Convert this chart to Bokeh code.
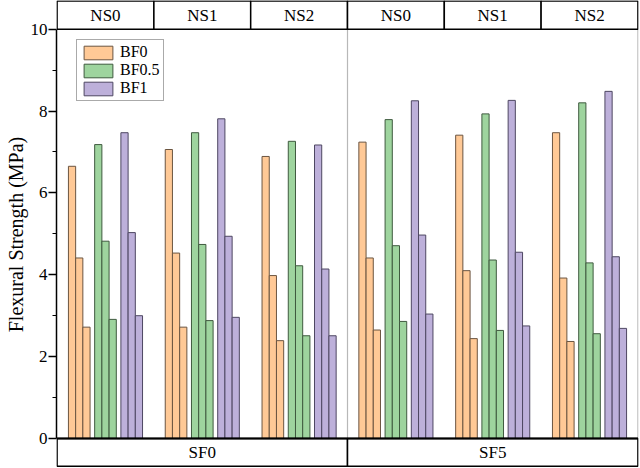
from bokeh.plotting import figure
from bokeh.models import Range1d, FixedTicker, ColumnDataSource, Legend, LegendItem
from bokeh.core.properties import value
from bokeh.embed import file_html
from bokeh.resources import INLINE

# ---- data ----
sf_labels = ["SF0", "SF5"]
ns_labels = ["NS0", "NS1", "NS2"]
bf_labels = ["BF0", "BF0.5", "BF1"]
# 6 groups (SF0-NS0, SF0-NS1, SF0-NS2, SF5-NS0, SF5-NS1, SF5-NS2) x 3 bars each
bf0 = [6.65, 4.41, 2.72, 7.06, 4.53, 2.72, 6.89, 3.98, 2.39,
       7.24, 4.41, 2.65, 7.41, 4.10, 2.44, 7.47, 3.92, 2.37]
bf05 = [7.18, 4.82, 2.91, 7.47, 4.74, 2.88, 7.26, 4.22, 2.51,
        7.79, 4.71, 2.86, 7.93, 4.36, 2.64, 8.20, 4.29, 2.56]
bf1 = [7.47, 5.03, 3.00, 7.81, 4.94, 2.96, 7.17, 4.14, 2.51,
       8.25, 4.97, 3.04, 8.26, 4.55, 2.75, 8.48, 4.44, 2.69]
y_ticks = [0, 2, 4, 6, 8, 10]
y_minor = [1, 3, 5, 7, 9]
y_title = "Flexural Strength (MPa)"

series = [bf0, bf05, bf1]
fills = ["#FFC996", "#9ED49E", "#BDB0DA"]
lines = ["#6b5540", "#3f5a3f", "#4e4762"]
FONT = "Liberation Serif"

n_groups = len(sf_labels) * len(ns_labels)
n_sub = 3
color_off = 0.271
sub_w = 0.0745
YMAX = 10
strip_h = 0.69

p = figure(width=640, height=468, output_backend="svg", toolbar_location=None,
           x_range=Range1d(-0.006, n_groups + 0.006), y_range=Range1d(-0.733, YMAX + 0.70),
           min_border_left=56, min_border_right=2, min_border_top=0, min_border_bottom=0)
p.background_fill_color = "white"
p.border_fill_color = "white"
p.outline_line_color = None
p.grid.visible = False
p.xaxis.visible = False

yax = p.yaxis[0]
yax.bounds = (0, YMAX)
yax.ticker = FixedTicker(ticks=y_ticks, minor_ticks=y_minor)
yax.axis_line_width = 1.5
yax.axis_line_color = "black"
yax.major_tick_in = 0
yax.major_tick_out = 8
yax.minor_tick_in = 0
yax.minor_tick_out = 4
yax.major_tick_line_width = 1.5
yax.minor_tick_line_width = 1.2
yax.major_label_text_font = FONT
yax.major_label_text_font_size = "17px"
yax.major_label_text_color = "black"
yax.major_label_standoff = 1
yax.axis_label = y_title
yax.axis_label_text_font = FONT
yax.axis_label_text_font_size = "20px"
yax.axis_label_text_font_style = "normal"
yax.axis_label_text_color = "black"
yax.axis_label_standoff = 1

# divider lines inside the plot
p.segment(x0=[n_groups / 2, n_groups], y0=[0, 0], x1=[n_groups / 2, n_groups], y1=[YMAX, YMAX],
          line_color="#b8b8b8", line_width=1.2)

renderers = []
for c, vals in enumerate(series):
    xs, tops = [], []
    for g in range(n_groups):
        for s in range(n_sub):
            xs.append(g + 0.5 + (c - 1) * color_off + (s - 1) * sub_w)
            tops.append(vals[g * n_sub + s])
    src = ColumnDataSource(dict(x=xs, top=tops))
    r = p.vbar(x="x", top="top", bottom=0, width=sub_w, source=src,
               fill_color=fills[c], line_color=lines[c], line_width=1)
    renderers.append(r)

# top strip (NS) boxes
top_labels = [ns for sf in sf_labels for ns in ns_labels]
p.quad(left=list(range(n_groups)), right=[g + 1 for g in range(n_groups)],
       bottom=[YMAX] * n_groups, top=[YMAX + strip_h] * n_groups,
       fill_color="white", line_color="black", line_width=1.5)
p.text(x=[g + 0.5 for g in range(n_groups)], y=[YMAX + strip_h / 2] * n_groups, text=top_labels,
       text_font=value(FONT), text_font_size="17px", text_align="center",
       text_baseline="middle", text_color="black")

# bottom strip (SF) boxes
w = len(ns_labels)
p.quad(left=[i * w for i in range(len(sf_labels))], right=[(i + 1) * w for i in range(len(sf_labels))],
       bottom=[-strip_h + 0.01] * len(sf_labels), top=[0] * len(sf_labels),
       fill_color="white", line_color="black", line_width=1.5)
p.segment(x0=[0], y0=[0], x1=[n_groups], y1=[0], line_color="black", line_width=2)
p.text(x=[i * w + w / 2 for i in range(len(sf_labels))], y=[-strip_h / 2] * len(sf_labels),
       text=sf_labels, text_font=value(FONT), text_font_size="17px", text_align="center",
       text_baseline="middle", text_color="black")

legend = Legend(items=[LegendItem(label=bf_labels[i], renderers=[renderers[i]]) for i in range(3)],
                location=(20, 367))
legend.label_text_font = FONT
legend.label_text_font_size = "16px"
legend.label_text_color = "black"
legend.glyph_width = 36
legend.glyph_height = 17
legend.label_height = 17
legend.spacing = 0
legend.padding = 3
legend.margin = 0
legend.label_standoff = 4
legend.border_line_color = "#555555"
legend.border_line_width = 1
legend.background_fill_alpha = 1
p.add_layout(legend)

open("out.html", "w").write(file_html(p, INLINE))
